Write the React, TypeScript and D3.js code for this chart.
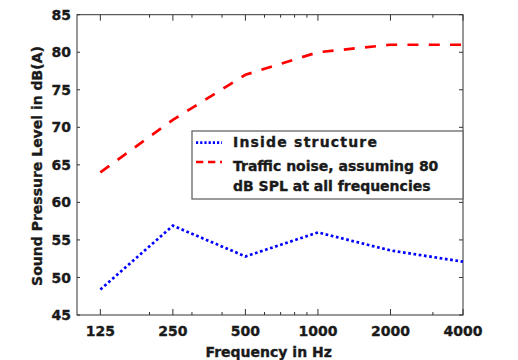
import React from "react";
import * as d3 from "d3";

const frequencies = [125, 250, 500, 1000, 2000, 4000];
const insideStructure = [48.4, 56.9, 52.8, 56.0, 53.6, 52.1];
const trafficNoise = [64, 71, 77, 80, 81, 81];
const majorTicks = [125, 250, 500, 1000, 2000, 4000];
const minorTicks = [200, 300, 400, 600, 700, 800, 900, 3000];
const yTicks = [45, 50, 55, 60, 65, 70, 75, 80, 85];
const legendLabels = ["Inside structure", "Traffic noise, assuming 80", "dB SPL at all frequencies"];

const W = 518;
const H = 360;
const M = { left: 77, right: 463, top: 14.7, bottom: 315 };
const FONT = "'DejaVu Sans', sans-serif";
const TEXT = "#1a1a1a";

export default function App() {
  const x = d3.scaleLog().domain([100, 4000]).range([M.left, M.right]);
  const y = d3.scaleLinear().domain([45, 85]).range([M.bottom, M.top]);

  const line = d3
    .line<number>()
    .x((_, i) => x(frequencies[i]))
    .y((v) => y(v));

  const axisColor = "#333";
  const textProps = { fill: TEXT, stroke: TEXT, strokeWidth: 0.35, fontSize: 14 };

  return (
    <svg
      width={W}
      height={H}
      style={{ position: "absolute", left: 0, top: 0, background: "#fff" }}
      fontFamily={FONT}
      fontWeight="bold"
    >
      <rect
        x={M.left}
        y={M.top}
        width={M.right - M.left}
        height={M.bottom - M.top}
        fill="none"
        stroke={axisColor}
        strokeWidth={1}
      />
      {majorTicks.map((t) => (
        <g key={"mx" + t}>
          <line x1={x(t)} x2={x(t)} y1={M.bottom} y2={M.bottom - 6} stroke={axisColor} />
          <line x1={x(t)} x2={x(t)} y1={M.top} y2={M.top + 6} stroke={axisColor} />
          <text x={x(t)} y={335.5} textAnchor="middle" {...textProps}>
            {t}
          </text>
        </g>
      ))}
      {minorTicks.map((t) => (
        <g key={"nx" + t}>
          <line x1={x(t)} x2={x(t)} y1={M.bottom} y2={M.bottom - 3} stroke={axisColor} />
          <line x1={x(t)} x2={x(t)} y1={M.top} y2={M.top + 3} stroke={axisColor} />
        </g>
      ))}
      {yTicks.map((t) => (
        <g key={"y" + t}>
          <line x1={M.left} x2={M.left + 3} y1={y(t)} y2={y(t)} stroke={axisColor} />
          <line x1={M.right} x2={M.right - 4} y1={y(t)} y2={y(t)} stroke={axisColor} />
          <text x={71} y={y(t)} dy="0.36em" textAnchor="end" {...textProps}>
            {t}
          </text>
        </g>
      ))}
      <path
        d={line(trafficNoise) || ""}
        fill="none"
        stroke="#ff0000"
        strokeWidth={2.7}
        strokeDasharray="11,10.3"
      />
      <path
        d={line(insideStructure) || ""}
        fill="none"
        stroke="#0000ff"
        strokeWidth={2.7}
        strokeDasharray="2.7,2.6"
      />
      <rect x={192} y={131} width={M.right - 192} height={68} fill="#fff" stroke="#666" strokeWidth={1.3} />
      <line x1={196} x2={222} y1={142.7} y2={142.7} stroke="#0000ff" strokeWidth={2.7} strokeDasharray="2.2,2" />
      <line x1={196} x2={222} y1={162} y2={162} stroke="#ff0000" strokeWidth={2.7} strokeDasharray="7.3,4.7" />
      <text x={233} y={147.3} letterSpacing={1.2} {...textProps}>
        {legendLabels[0]}
      </text>
      <text x={233} y={170.5} {...textProps}>
        {legendLabels[1]}
      </text>
      <text x={233} y={190.5} {...textProps}>
        {legendLabels[2]}
      </text>
      <text x={268.7} y={356.5} textAnchor="middle" {...textProps}>
        Frequency in Hz
      </text>
      <text transform={`translate(42.3,166) rotate(-90)`} textAnchor="middle" {...textProps}>
        Sound Pressure Level in dB(A)
      </text>
    </svg>
  );
}
